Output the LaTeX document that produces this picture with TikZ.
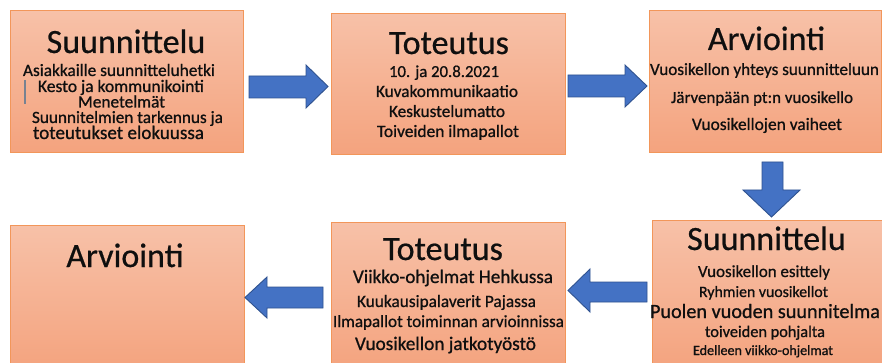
\documentclass[tikz,border=0pt]{standalone}
\usepackage{fontspec}
\setmainfont{Carlito}
\usepackage{graphicx}
\definecolor{boxtop}{RGB}{247,193,168}
\definecolor{boxbot}{RGB}{244,163,126}
\definecolor{boxline}{RGB}{242,150,90}
\definecolor{arrfill}{RGB}{68,114,196}
\definecolor{arrline}{RGB}{47,82,143}
\definecolor{txt}{RGB}{15,15,15}
\definecolor{cursor}{RGB}{120,130,145}
\newcommand\bline[5]{\node[bodytxt] (#1) at (#2,#3) {\resizebox{#4pt}{!}{#5}};}
\begin{document}
\begin{tikzpicture}[x=1pt,y=-1pt,
  box/.style={draw=boxline, line width=1pt, top color=boxtop, bottom color=boxbot,
    anchor=north west, inner sep=0pt, minimum width=#1},
  box/.default=233pt,
  titletxt/.style={anchor=base, inner sep=0pt, text=txt,
    font=\fontsize{34}{34}\selectfont\addfontfeatures{FakeBold=0.6}},
  bodytxt/.style={anchor=base, inner sep=0pt, text=txt,
    font=\fontsize{17}{17}\selectfont\addfontfeatures{FakeBold=0.8}},
  blockarrow/.style={fill=arrfill, draw=arrline, line width=0.9pt, line join=miter}]
\useasboundingbox (0,0) rectangle (882,363);
\fill[white] (0,0) rectangle (882,363);
% boxes
\node[box, minimum height=142pt] (b1) at (10,10) {};
\node[box, minimum height=141pt, minimum width=234pt] (b2) at (331,13) {};
\node[box, minimum height=142pt, minimum width=232pt] (b3) at (649,10) {};
\node[box, minimum height=145pt, minimum width=234pt] (b4) at (10,225) {};
\node[box, minimum height=148pt, minimum width=234pt] (b5) at (331,222) {};
\node[box, minimum height=150pt, minimum width=232pt] (b6) at (652,220) {};
% arrows
\draw[blockarrow] (249,76) -- (306,76) -- (306,65) -- (328,86.5) -- (306,108) -- (306,98) -- (249,98) -- cycle;
\draw[blockarrow] (568,75) -- (625,75) -- (625,65) -- (647,86) -- (625,107) -- (625,97) -- (568,97) -- cycle;
\draw[blockarrow] (762,162) -- (762,190) -- (743,190) -- (771.5,217) -- (800,190) -- (783,190) -- (783,162) -- cycle;
\draw[blockarrow] (647,282) -- (590,282) -- (590,269) -- (568,290.5) -- (590,312) -- (590,302) -- (647,302) -- cycle;
\draw[blockarrow] (323,287) -- (267,287) -- (267,277) -- (245,297.5) -- (267,318) -- (267,308) -- (323,308) -- cycle;
% titles
\node[titletxt] (t1) at (126,53) {Suunnittelu};
\node[titletxt] (t2) at (449,54) {Toteutus};
\node[titletxt] (t3) at (766.5,50) {Arviointi};
\node[titletxt] (t4) at (125,267) {Arviointi};
\node[titletxt] (t5) at (443,260) {Toteutus};
\node[titletxt] (t6) at (766.5,250) {Suunnittelu};
% box 1
\bline{a1}{119}{76}{192}{Asiakkaille suunnitteluhetki}
\bline{a2}{121}{92}{166}{Kesto ja kommunikointi}
\bline{a3}{121.5}{107.5}{87}{Menetelmät}
\bline{a4}{127.5}{123}{191}{Suunnitelmien tarkennus ja}
\bline{a5}{118.5}{139}{171}{toteutukset elokuussa}
\draw[color=cursor, line width=1.3pt] (25,80) -- (25,104);
% box 2
\bline{c1}{444}{77}{110}{10. ja 20.8.2021}
\bline{c2}{447}{97}{142}{Kuvakommunikaatio}
\bline{c3}{447}{117}{116}{Keskustelumatto}
\bline{c4}{448}{137}{142}{Toiveiden ilmapallot}
% box 3
\bline{d1}{764.5}{75}{229}{Vuosikellon yhteys suunnitteluun}
\bline{d2}{762}{103}{182}{Järvenpään pt:n vuosikello}
\bline{d3}{767}{130}{150}{Vuosikellojen vaiheet}
% box 5
\bline{e1}{453}{283}{200}{Viikko-ohjelmat Hehkussa}
\bline{e2}{446.5}{307}{179}{Kuukausipalaverit Pajassa}
\bline{e3}{448.5}{327}{231}{Ilmapallot toiminnan arvioinnissa}
\bline{e4}{445.5}{350}{181}{Vuosikellon jatkotyöstö}
% box 6
\bline{f1}{764}{277}{132}{Vuosikellon esittely}
\bline{f2}{763.5}{297}{129}{Ryhmien vuosikellot}
\bline{f3}{765}{318}{230}{Puolen vuoden suunnitelma}
\bline{f4}{765}{337}{120}{toiveiden pohjalta}
\bline{f5}{763}{355}{140}{Edelleen viikko-ohjelmat}
\end{tikzpicture}
\end{document}
